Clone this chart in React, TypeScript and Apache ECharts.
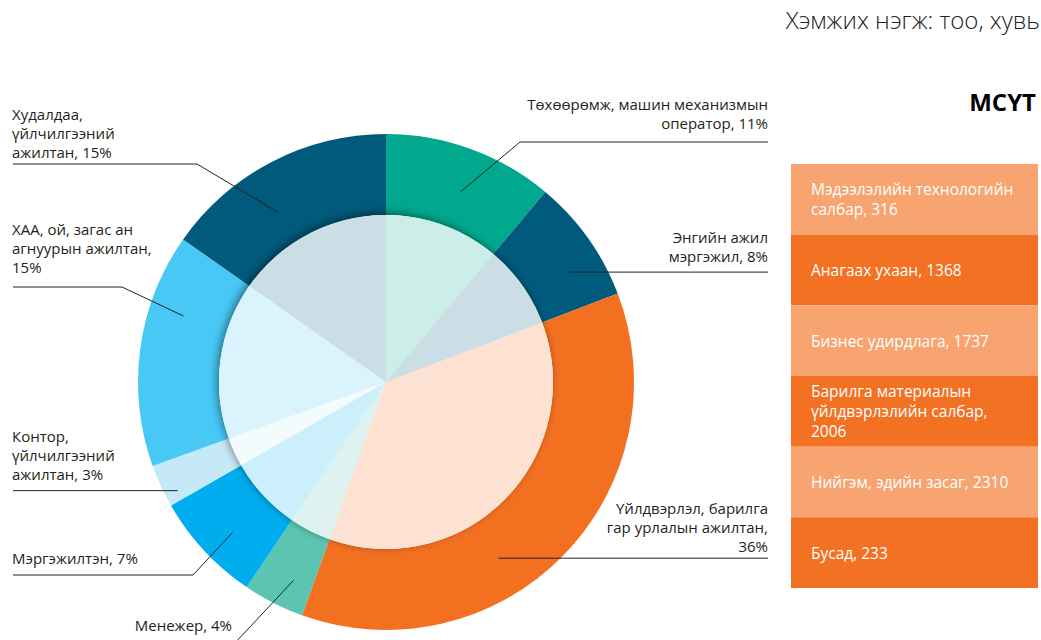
import React, { useEffect, useRef } from "react";
import * as echarts from "echarts";

// ---- data ----
const occupations = [
  "Төхөөрөмж, машин механизмын\nоператор",
  "Энгийн ажил\nмэргэжил",
  "Үйлдвэрлэл, барилга\nгар урлалын ажилтан",
  "Менежер",
  "Мэргэжилтэн",
  "Контор,\nүйлчилгээний\nажилтан",
  "ХАА, ой, загас ан\nагнуурын ажилтан",
  "Худалдаа,\nүйлчилгээний\nажилтан",
];
const shares = [11.1, 8.1, 36.3, 4.0, 7.2, 2.8, 15.25, 15.25];
const valueOnNewLine = [false, false, true, false, false, false, true, false];

const fields = [
  "Мэдээлэлийн технологийн\nсалбар",
  "Анагаах ухаан",
  "Бизнес удирдлага",
  "Барилга материалын\nүйлдвэрлэлийн салбар",
  "Нийгэм, эдийн засаг",
  "Бусад",
];
const fieldCounts = [316, 1368, 1737, 2006, 2310, 233];
const fieldValueOnNewLine = [false, false, false, true, false, false];

// ---- styles / layout ----
const FONT = "'Open Sans', 'Noto Sans', sans-serif";
const ringColors = ["#00A88E", "#005A7C", "#F37021", "#5CC5B1", "#00AEEF", "#C6E9F7", "#47C8F5", "#005A7C"];
const tableColors = ["#F8A470", "#F37123"];
const CX = 386;
const CY = 382;
const R_IN = 167;
const R_OUT = 248;
// per-label guide: angle offset from slice middle (deg), anchor radius, side, elbow x, line y (null => horizontal), gap text->line
const guides = [
  { dA: 1.4, r: 204, side: "right", elbowX: 520, lineY: 142, gap: 10, textX: 768, endX: 768 },
  { dA: 4.4, r: 213, side: "right", elbowX: null, lineY: null, gap: 7, textX: 768, endX: 768 },
  { dA: 13, r: 209, side: "right", elbowX: null, lineY: null, gap: 3, textX: 768, endX: 768 },
  { dA: -2, r: 219, side: "right", elbowX: 234, lineY: 644, gap: 10, textX: 232, endX: 100 },
  { dA: -1.6, r: 215, side: "left", elbowX: 193, lineY: 575, gap: 8, textX: 12, endX: 13 },
  { dA: -2.7, r: 235, side: "left", elbowX: null, lineY: null, gap: 7, textX: 12, endX: 13 },
  { dA: 10.4, r: 213, side: "left", elbowX: 122, lineY: 287, gap: 11, textX: 12, endX: 13 },
  { dA: -5, r: 201, side: "left", elbowX: 197, lineY: 164, gap: 3, textX: 12, endX: 13 },
];

function midAngles(vals: number[]) {
  const total = vals.reduce((a, b) => a + b, 0);
  let cum = 0;
  return vals.map((v) => {
    const m = ((cum + v / 2) / total) * 360;
    cum += v;
    return m;
  });
}

export default function App() {
  const ref = useRef<HTMLDivElement>(null);
  useEffect(() => {
    document.body.style.margin = "0";
    if (!ref.current) return;
    const chart = echarts.init(ref.current, undefined, { renderer: "svg" });
    const mids = midAngles(shares);

    const option: any = {
      animation: false,
      title: [
        {
          text: "Хэмжих нэгж: тоо, хувь",
          right: 1,
          top: 7,
          padding: 0,
          textStyle: { fontFamily: FONT, fontSize: 24, fontWeight: 300, color: "#222" },
        },
        {
          text: "МСҮТ",
          right: 5,
          top: 89,
          padding: 0,
          textStyle: { fontFamily: FONT, fontSize: 24, fontWeight: "bold", color: "#000" },
        },
      ],
      grid: { left: 791, top: 164, width: 247, height: 424 },
      xAxis: { type: "value", min: 0, max: 1, show: false },
      yAxis: { type: "category", data: fields, inverse: true, show: false },
      series: [
        {
          type: "pie",
          name: "ring",
          silent: true,
          z: 2,
          center: [CX, CY],
          radius: [R_IN, R_OUT],
          startAngle: 90,
          clockwise: true,
          itemStyle: { borderWidth: 0 },
          data: occupations.map((n, i) => ({
            name: n,
            value: shares[i],
            itemStyle: { color: ringColors[i] },
          })),
          label: { show: false },
          labelLine: { show: false },
          emphasis: { disabled: true },
        },
        {
          type: "pie",
          name: "shadow",
          silent: true,
          z: 2,
          center: [CX, CY],
          radius: [0, R_IN],
          data: [{ value: 1, name: "" }],
          label: { show: false },
          labelLine: { show: false },
          itemStyle: {
            color: "#ffffff",
            shadowBlur: 8,
            shadowColor: "rgba(0,0,0,0.45)",
            shadowOffsetX: -2,
            shadowOffsetY: -2,
          },
          emphasis: { disabled: true },
        },
        {
          type: "pie",
          name: "inner",
          silent: true,
          z: 2,
          center: [CX, CY],
          radius: [0, R_IN],
          startAngle: 90,
          clockwise: true,
          data: occupations.map((n, i) => ({
            name: n,
            value: shares[i],
            itemStyle: { color: ringColors[i], opacity: 0.2 },
          })),
          label: { show: false },
          labelLine: { show: false },
          emphasis: { disabled: true },
        },
        {
          type: "pie",
          name: "labels",
          silent: true,
          z: 5,
          center: [CX, CY],
          radius: [R_IN, R_OUT],
          startAngle: 90,
          clockwise: true,
          avoidLabelOverlap: false,
          data: occupations.map((n, i) => ({
            name: n,
            value: shares[i],
            itemStyle: { color: "rgba(0,0,0,0)" },
          })),
          label: {
            show: true,
            position: "outside",
            fontFamily: FONT,
            fontSize: 15,
            lineHeight: 19,
            color: "#231F20",
            formatter: (p: any) =>
              `${p.name}${valueOnNewLine[p.dataIndex] ? ",\n" : ", "}${Math.round(p.value)}%`,
          },
          labelLine: {
            show: true,
            showAbove: true,
            length: 10,
            length2: 10,
            smooth: false,
            lineStyle: { color: "#222", width: 1 },
          },
          labelLayout: (p: any) => {
            const i = p.dataIndex;
            const g = guides[i];
            const a = ((mids[i] + g.dA) * Math.PI) / 180;
            const sx = CX + g.r * Math.sin(a);
            const sy = CY - g.r * Math.cos(a);
            const ly = g.lineY == null ? sy : g.lineY;
            const ex = g.elbowX == null ? sx : g.elbowX;
            return {
              x: g.textX,
              y: ly - g.gap,
              align: g.side === "right" ? "right" : "left",
              verticalAlign: "bottom",
              labelLinePoints: [
                [sx, sy],
                [ex, ly],
                [g.endX, ly],
              ],
            };
          },
          emphasis: { disabled: true },
        },
        {
          type: "bar",
          name: "fields",
          silent: true,
          barCategoryGap: "0%",
          data: fields.map((f, i) => ({ value: 1, itemStyle: { color: tableColors[i % 2] } })),
          label: {
            show: true,
            position: "insideLeft",
            distance: 20,
            fontFamily: FONT,
            fontSize: 15.5,
            lineHeight: 20,
            color: "#ffffff",
            formatter: (p: any) =>
              `${fields[p.dataIndex]}${fieldValueOnNewLine[p.dataIndex] ? ",\n" : ", "}${fieldCounts[p.dataIndex]}`,
          },
          emphasis: { disabled: true },
        },
      ],
    };
    chart.setOption(option);
    return () => chart.dispose();
  }, []);
  return <div ref={ref} style={{ width: 1041, height: 640 }} />;
}
